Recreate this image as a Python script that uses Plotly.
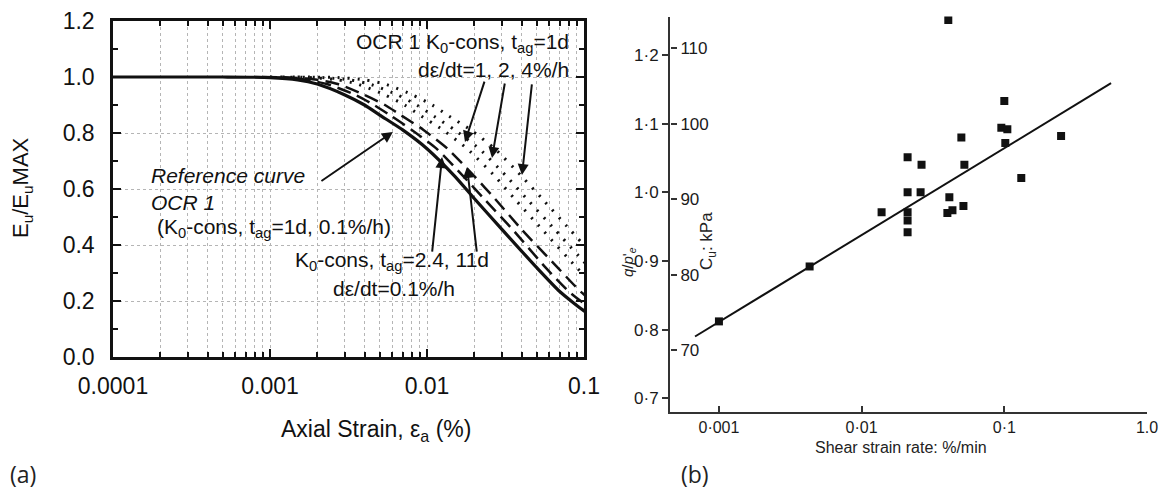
import plotly.graph_objects as go

W, H = 1165, 492

# ---------------- Panel (a): Eu/EuMAX vs axial strain ----------------
ref_x = [0.0001, 0.0005, 0.001, 0.0015, 0.002, 0.003, 0.004, 0.005, 0.007, 0.01,
         0.015, 0.02, 0.03, 0.05, 0.07, 0.1, 0.12]
ref_y = [1.0, 1.0, 0.998, 0.99, 0.975, 0.936, 0.90, 0.864, 0.811, 0.744,
         0.646, 0.566, 0.456, 0.319, 0.234, 0.165, 0.14]

tag24_x = [0.0008, 0.00115, 0.0017, 0.0023, 0.0035, 0.0046, 0.0058, 0.008, 0.0115, 0.017,
           0.023, 0.035, 0.057, 0.08, 0.115]
tag24_y = [1.0, 0.998, 0.99, 0.975, 0.936, 0.90, 0.864, 0.811, 0.744, 0.646,
           0.566, 0.456, 0.319, 0.234, 0.165]

tag11_x = [0.0009, 0.00135, 0.002, 0.0027, 0.004, 0.0054, 0.0068, 0.0095, 0.0135, 0.02,
           0.027, 0.04, 0.068, 0.095, 0.135]
tag11_y = [1.0, 0.998, 0.99, 0.975, 0.936, 0.90, 0.864, 0.811, 0.744, 0.646,
           0.566, 0.456, 0.319, 0.234, 0.165]

rate1_x = [0.001, 0.0018, 0.0027, 0.0036, 0.0054, 0.0072, 0.009, 0.0126, 0.018, 0.027,
           0.036, 0.054, 0.09, 0.126]
rate1_y = [1.0, 0.998, 0.99, 0.975, 0.936, 0.90, 0.864, 0.811, 0.744, 0.646,
           0.566, 0.456, 0.319, 0.234]

rate2_x = [0.0012, 0.00215, 0.0032, 0.0043, 0.0065, 0.0086, 0.0108, 0.015, 0.0215, 0.032,
           0.043, 0.065, 0.108]
rate2_y = [1.0, 0.998, 0.99, 0.975, 0.936, 0.90, 0.864, 0.811, 0.744, 0.646,
           0.566, 0.456, 0.319]

rate4_x = [0.0015, 0.0027, 0.004, 0.0054, 0.0081, 0.0108, 0.0135, 0.019, 0.027, 0.04,
           0.054, 0.081, 0.135]
rate4_y = [1.0, 0.998, 0.99, 0.975, 0.936, 0.90, 0.864, 0.811, 0.744, 0.646,
           0.566, 0.456, 0.319]

a_xticks = [0.0001, 0.001, 0.01, 0.1]
a_xticklabels = ["0.0001", "0.001", "0.01", "0.1"]
a_yticks = [0.0, 0.2, 0.4, 0.6, 0.8, 1.0, 1.2]
a_yticklabels = ["0.0", "0.2", "0.4", "0.6", "0.8", "1.0", "1.2"]

# ---------------- Panel (b): q/p'e vs shear strain rate ----------------
rate_x = [0.001, 0.00432, 0.0405, 0.1, 0.0953, 0.105, 0.1016, 0.05, 0.25, 0.021, 0.0263,
          0.0525, 0.1315, 0.021, 0.0259, 0.0412, 0.0138, 0.021, 0.021, 0.021, 0.0399, 0.0433, 0.0517]
ratio_y = [0.812, 0.892, 1.251, 1.133, 1.094, 1.092, 1.072, 1.080, 1.082, 1.051, 1.040,
           1.040, 1.021, 1.0, 1.0, 0.993, 0.971, 0.971, 0.959, 0.942, 0.970, 0.974, 0.980]
fit_x = [0.00068, 0.56]
fit_y = [0.79, 1.159]

b_xticks = [0.001, 0.01, 0.1, 1.0]
b_xticklabels = ["0·001", "0·01", "0·1", "1.0"]
b_yticks = [0.7, 0.8, 0.9, 1.0, 1.1, 1.2]
b_yticklabels = ["0·7", "0·8", "0·9", "1·0", "1·1", "1·2"]
cu_ticks = [70, 80, 90, 100, 110]


def fx(p):
    return p / W


def fy(p):
    return 1 - p / H


FONT = "Liberation Sans, Arial, sans-serif"
INK = "#111111"
DOTS = "2px,8px"
DASH = "14px,7px"

fig = go.Figure()

# curves of panel (a)
for cx, cy in [(rate4_x, rate4_y), (rate2_x, rate2_y), (rate1_x, rate1_y)]:
    fig.add_trace(go.Scatter(x=cx, y=cy, mode="lines", xaxis="x", yaxis="y",
                             line=dict(color=INK, width=3, dash=DOTS, shape="spline", smoothing=0.6)))
for cx, cy in [(tag11_x, tag11_y), (tag24_x, tag24_y)]:
    fig.add_trace(go.Scatter(x=cx, y=cy, mode="lines", xaxis="x", yaxis="y",
                             line=dict(color=INK, width=2.5, dash=DASH, shape="spline", smoothing=0.6)))
fig.add_trace(go.Scatter(x=ref_x, y=ref_y, mode="lines", xaxis="x", yaxis="y",
                         line=dict(color=INK, width=3.2, shape="spline", smoothing=0.6)))

# panel (b): regression line and measurements
fig.add_trace(go.Scatter(x=fit_x, y=fit_y, mode="lines", xaxis="x2", yaxis="y2",
                         line=dict(color=INK, width=2)))
fig.add_trace(go.Scatter(x=rate_x, y=ratio_y, mode="markers", xaxis="x2", yaxis="y2",
                         marker=dict(symbol="square", size=8, color=INK)))
# invisible carrier so the Cu (kPa) scale is drawn
fig.add_trace(go.Scatter(x=[None], y=[None], mode="markers", xaxis="x2", yaxis="y3",
                         hoverinfo="skip"))

minor_x = [m * 10 ** e for e in range(-4, -1) for m in range(2, 10)]

common = dict(automargin=False, zeroline=False)

fig.update_layout(
    template="none",
    width=W, height=H,
    margin=dict(l=0, r=0, t=0, b=0, pad=0),
    paper_bgcolor="white", plot_bgcolor="white",
    showlegend=False,
    font=dict(family=FONT, color=INK),
    xaxis=dict(
        type="log", domain=[fx(113), fx(584)], range=[-4, -1], anchor="y",
        tickvals=a_xticks, ticktext=a_xticklabels,
        ticks="inside", ticklen=8, tickwidth=2, tickcolor=INK,
        showline=True, linewidth=2.5, linecolor=INK, mirror="allticks",
        showgrid=True, gridcolor="#b5b5b5", griddash="dot", gridwidth=1.2,
        tickfont=dict(size=23, family=FONT, color=INK), ticklabelstandoff=7,
        minor=dict(tickvals=minor_x, ticks="inside", ticklen=5, tickwidth=2, tickcolor=INK,
                   showgrid=True, gridcolor="#b5b5b5", griddash="dot", gridwidth=1.2),
        **common,
    ),
    yaxis=dict(
        domain=[fy(357), fy(21)], range=[0, 1.2], anchor="x",
        tickvals=a_yticks, ticktext=a_yticklabels,
        ticks="inside", ticklen=8, tickwidth=2, tickcolor=INK,
        showline=True, linewidth=2.5, linecolor=INK, mirror="allticks",
        showgrid=True, gridcolor="#b5b5b5", griddash="dot", gridwidth=1.2,
        tickfont=dict(size=23, family=FONT, color=INK), ticklabelstandoff=11,
        minor=dict(dtick=0.1, ticks="inside", ticklen=5, tickwidth=2, tickcolor=INK, showgrid=False),
        **common,
    ),
    xaxis2=dict(
        type="log", domain=[fx(670), fx(1147)], range=[-3.343, 0], anchor="y2",
        tickvals=b_xticks, ticktext=b_xticklabels,
        ticks="inside", ticklen=6, tickwidth=1.5, tickcolor="#333",
        showline=True, linewidth=2, linecolor="#333",
        showgrid=False,
        tickfont=dict(size=16, family=FONT, color="#1a1a1a"), ticklabelstandoff=0,
        **common,
    ),
    yaxis2=dict(
        domain=[fy(412), fy(16.6)], range=[0.68, 1.256], anchor="x2",
        tickvals=b_yticks, ticktext=b_yticklabels,
        ticks="outside", ticklen=6, tickwidth=1.5, tickcolor="#333",
        showline=True, linewidth=2, linecolor="#333",
        showgrid=False,
        tickfont=dict(size=17, family=FONT, color="#1a1a1a"), ticklabelstandoff=0,
        **common,
    ),
    yaxis3=dict(
        overlaying="y2", anchor="free", position=fx(670), side="right",
        range=[61.8, 114.2], tickvals=cu_ticks,
        ticks="outside", ticklen=6, tickwidth=1.5, tickcolor="#333",
        showline=False, showgrid=False,
        tickfont=dict(size=17, family=FONT, color="#1a1a1a"), ticklabelstandoff=0,
        **common,
    ),
)

ann = []


def text(x, y, s, size=21, anchor="left", angle=0, family=FONT, color=INK):
    ann.append(dict(x=fx(x), y=fy(y), xref="paper", yref="paper", text=s, showarrow=False,
                    xanchor=anchor, yanchor="middle", textangle=angle,
                    font=dict(size=size, family=family, color=color)))


# axis titles for panel (a)
text(22, 188, "E<sub>u</sub>/E<sub>u</sub>MAX", size=22, anchor="center", angle=-90)
text(376, 430, "Axial Strain, ε<sub>a</sub> (%)", size=23, anchor="center")

# curve labels in panel (a)
text(571, 43, "OCR 1 K<sub>0</sub>-cons, t<sub>ag</sub>=1d", anchor="right")
text(571, 69, "dε/dt=1, 2, 4%/h", anchor="right")
text(149, 175, "<i>Reference curve</i>")
text(149, 202, "<i>OCR 1</i>")
text(155, 228, "(K<sub>0</sub>-cons, t<sub>ag</sub>=1d, 0.1%/h)")
text(293, 261, "K<sub>0</sub>-cons, t<sub>ag</sub>=2.4, 11d")
text(331, 288, "dε/dt=0.1%/h")

# arrows in panel (a): (tail log-x, tail y, tip log-x, tip y)
arrows = [
    (-2.682, 0.625, -2.217, 0.804),
    (-1.631, 0.989, -1.758, 0.768),
    (-1.503, 0.982, -1.586, 0.711),
    (-1.331, 0.979, -1.395, 0.650),
    (-1.968, 0.371, -1.904, 0.714),
    (-1.682, 0.371, -1.745, 0.679),
]
for tx, ty, hx, hy in arrows:
    ann.append(dict(x=hx, y=hy, xref="x", yref="y", ax=tx, ay=ty, axref="x", ayref="y",
                    showarrow=True, arrowhead=2, arrowsize=1.1, arrowwidth=2, arrowcolor=INK,
                    text=""))

# axis titles for panel (b)
text(628, 262, "<i>q</i>/<i>p</i>'<sub><i>e</i></sub>", size=15, anchor="center", angle=-90, color="#222")
text(708, 241, "C<sub>u</sub>: kPa", size=17, anchor="center", angle=-90, color="#222")
text(813, 447, "Shear strain rate: %/min", size=16, color="#222")

# panel letters
text(8, 474, "(a)", size=23, family="Open Sans, sans-serif", color="#222")
text(679, 474, "(b)", size=23, family="Open Sans, sans-serif", color="#222")

fig.update_layout(annotations=ann)

fig.write_html("out.html")
